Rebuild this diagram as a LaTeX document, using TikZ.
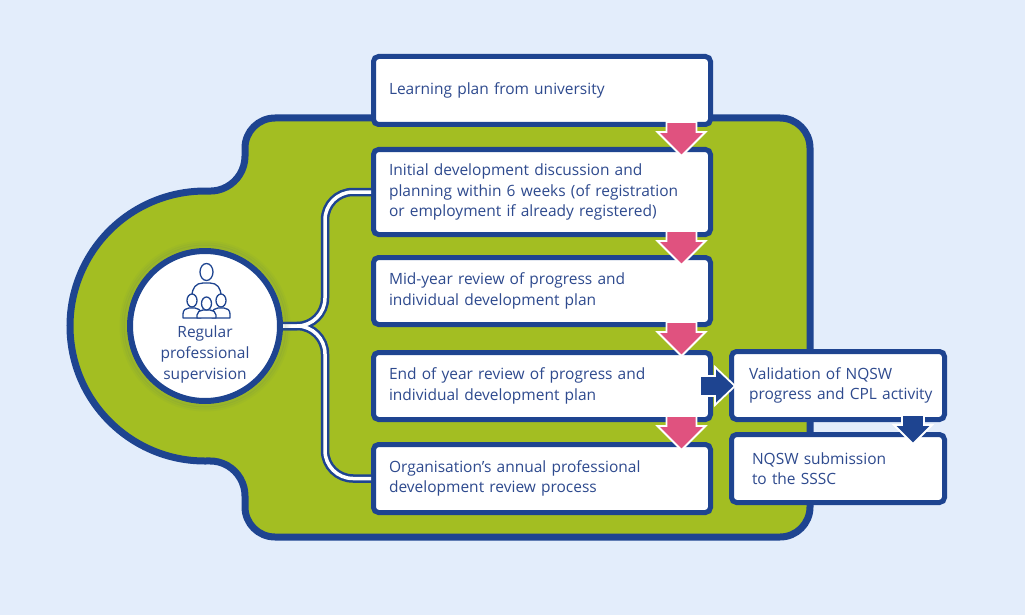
\documentclass[tikz,border=0pt]{standalone}
\usepackage{fontspec}
\setmainfont{Open Sans}
\usetikzlibrary{calc}
\definecolor{bgc}{HTML}{E3EDFB}
\definecolor{ngreen}{HTML}{A3BE22}
\definecolor{nblue}{HTML}{1E4490}
\definecolor{ntext}{HTML}{2E4A8E}
\definecolor{npink}{HTML}{E0527F}
\tikzset{
  box/.style={draw=nblue, line width=5pt, fill=white, rounded corners=5pt,
    align=left, text=ntext, font=\fontsize{15.5}{20.5}\selectfont,
    inner ysep=0pt, inner xsep=15.5pt, text width=306pt, minimum width=337pt},
  sidebox/.style={box, minimum width=213pt},
  circbox/.style={circle, draw=nblue, line width=6pt, fill=white, minimum size=150pt, inner sep=0pt},
  circtext/.style={align=center, text=ntext, font=\fontsize{15.5}{21}\selectfont, inner sep=0pt},
  icon/.style={draw=nblue, line width=1.3pt, fill=white, line join=round},
  pipeout/.style={draw=nblue, line width=8.5pt, rounded corners=28pt},
  pipein/.style={draw=white, line width=3.5pt, rounded corners=28pt},
  pinkarr/.style={fill=npink, draw=white, line width=1.8pt, line join=miter},
  bluearr/.style={fill=nblue, draw=white, line width=1.8pt, line join=miter},
  pics/pinkdown/.style={code={\path[pinkarr] (-15,0) -- (15,0) -- (15,10) -- (24,10) -- (0,34) -- (-24,10) -- (-15,10) -- cycle;}},
  pics/bluedown/.style={code={\path[bluearr] (-11,0) -- (11,0) -- (11,10) -- (19,10) -- (0,29) -- (-19,10) -- (-11,10) -- cycle;}},
  pics/blueright/.style={code={\path[bluearr] (0,-10) -- (15,-10) -- (15,-19) -- (35,0) -- (15,19) -- (15,10) -- (0,10) -- cycle;}},
}
\begin{document}
\begin{tikzpicture}[x=1pt,y=-1pt]
\useasboundingbox (0,0) rectangle (1025,615);
\fill[bgc] (0,0) rectangle (1025,615);

% green back shape
\path[fill=ngreen, draw=nblue, line width=7pt]
  (245,156.07) -- (245,148) arc[start angle=180,end angle=270,radius=30]
  -- (780,118) arc[start angle=270,end angle=360,radius=30]
  -- (810,507) arc[start angle=0,end angle=90,radius=30]
  -- (275,537) arc[start angle=90,end angle=180,radius=30]
  -- (245,495.93) arc[start angle=0,end angle=-91.69,radius=35]
  arc[start angle=88.31,end angle=271.69,radius=135]
  arc[start angle=91.69,end angle=0,radius=35] -- cycle;

% boxes
\node[box, minimum height=68pt] (b1) at (542,90.5) {Learning plan from university};
\node[box, minimum height=85pt] (b2) at (542,192) {Initial development discussion and\\\mbox{planning within 6 weeks (of registration}\\or employment if already registered)};
\node[box, minimum height=67pt] (b3) at (542,291) {Mid-year review of progress and\\individual development plan};
\node[box, minimum height=67pt] (b4) at (542,386) {End of year review of progress and\\individual development plan};
\node[box, minimum height=68pt] (b5) at (542,478.5) {Organisation’s annual professional\\development review process};
\node[sidebox, minimum height=68pt, inner xsep=17.5pt, text width=178pt] (b6) at (838,385.5) {\mbox{Validation of NQSW}\\\mbox{progress and CPL activity}};
\node[sidebox, minimum height=68pt, inner xsep=20.5pt, text width=172pt] (b7) at (838,468.5) {NQSW submission\\to the SSSC};

% supervision connectors (drawn under the circle, ending at the box borders)
\coordinate (hub) at (205,326);
\foreach \t in {b2,b5} {\draw[pipeout] (hub) -- ++(120,0) |- (\t.west);}
\foreach \t in {b2,b5} {\draw[pipein] (hub) -- ++(120,0) |- (\t.west);}

% circle
\foreach \r/\o in {84/0.05,82/0.08,80/0.12} {\draw[nblue!60!ngreen, line width=3pt, opacity=\o] (hub) circle (\r);}
\node[circbox] (circ) at (hub) {};
\node[circtext] (suptext) at (205,354) {Regular\\professional\\supervision};

% icon
\draw[icon, fill=none] (192,296) .. controls (192,288) and (196,283) .. (203,283) -- (210,283) .. controls (217,283) and (221,288) .. (221,296);
\draw[icon] (206.5,272) ellipse (6.5 and 8.5);
\foreach \cx in {192,221} {
  \draw[icon] (\cx-9,318) -- (\cx-9,314) .. controls (\cx-9,310) and (\cx-6,308) .. (\cx-3,308) -- (\cx+3,308) .. controls (\cx+6,308) and (\cx+9,310) .. (\cx+9,314) -- (\cx+9,318) -- cycle;
  \draw[icon] (\cx,300.5) ellipse (5 and 6.5);
}
\draw[icon] (197,318) -- (197,315) .. controls (197,312) and (200,310) .. (203,310) -- (210,310) .. controls (213,310) and (216,312) .. (216,315) -- (216,318) -- cycle;
\draw[icon] (206.5,303.5) ellipse (5 and 6.5);

% flow arrows
\pic at ($(b1.south)+(139.5,-5)$) {pinkdown};
\pic at ($(b2.south)+(139.5,-6)$) {pinkdown};
\pic at ($(b3.south)+(139.5,-5)$) {pinkdown};
\pic at ($(b4.south)+(139.5,-6)$) {pinkdown};
\pic at ($(b4.east)+(-13,0)$) {blueright};
\pic at ($(b6.south east)+(-34,-7)$) {bluedown};
\end{tikzpicture}
\end{document}
